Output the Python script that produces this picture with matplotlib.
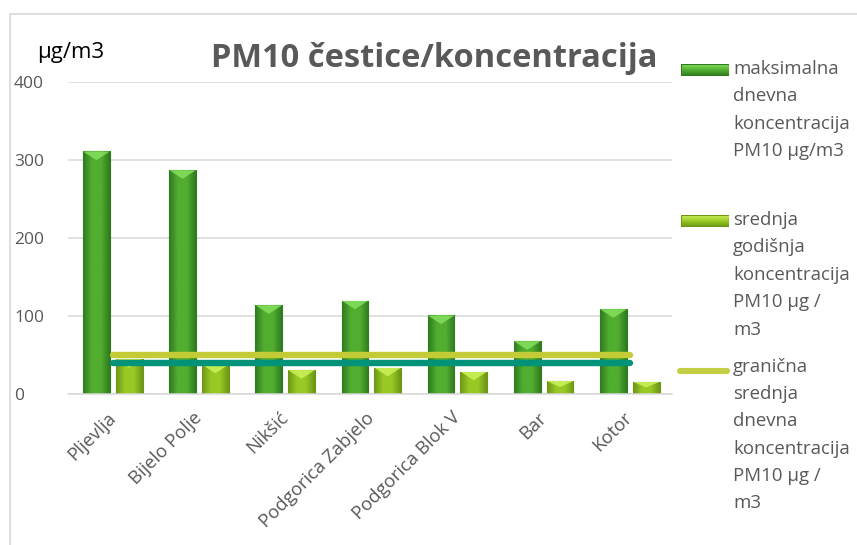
import matplotlib
matplotlib.use('Agg')
import matplotlib.pyplot as plt
import numpy as np
from matplotlib.colors import LinearSegmentedColormap
from matplotlib.patches import Rectangle, Polygon
from matplotlib.lines import Line2D

# ---------------- data ----------------
stations = ['Pljevlja', 'Bijelo Polje', 'Nikšić', 'Podgorica Zabjelo',
            'Podgorica Blok V', 'Bar', 'Kotor']
max_daily = [311, 287, 114, 120, 101, 68, 109]
annual_mean = [45, 38, 31, 34, 29, 17, 16]
daily_limit = 50
annual_limit = 40
yticks = [0, 100, 200, 300, 400]
title = 'PM10 čestice/koncentracija'
unit_label = 'µg/m3'
series_labels = [
    'maksimalna\ndnevna\nkoncentracija\nPM10 µg/m3',
    'srednja\ngodišnja\nkoncentracija\nPM10 µg /\nm3',
    'granična\nsrednja\ndnevna\nkoncentracija\nPM10 µg /\nm3',
]

# ---------------- style ----------------
plt.rcParams['font.family'] = ['Open Sans', 'DejaVu Sans']
W, H = 857, 545
fig = plt.figure(figsize=(W / 100, H / 100), dpi=100)
fig.patch.set_facecolor('white')

def fx(px):
    return px / W

def fy(py):
    return 1 - py / H

ax = fig.add_axes([fx(68), fy(394.3), fx(672 - 68), (394.3 - 82) / H])

GRID = '#D9D9D9'
TXT = '#595959'
DARK_EDGE, DARK_MID = '#2F7A1F', '#52AE30'
LIGHT_EDGE, LIGHT_MID = '#6C9614', '#98C925'
DARK_HL, LIGHT_HL = '#86E05E', '#CDF25A'
LIMIT_C = '#C3CC36'
ANNUAL_C = '#00937A'

x = np.arange(len(stations))
bw = 0.31
off = 0.19


def grad_bar(xc, h, edge, mid, hl):
    cmap = LinearSegmentedColormap.from_list('g', [edge, mid, mid, edge])
    bar = ax.bar(xc, h, bw, color=mid, edgecolor=edge, linewidth=0.8, zorder=2)[0]
    g = np.linspace(0, 1, 64).reshape(1, -1)
    im = ax.imshow(g, cmap=cmap, extent=[xc - bw / 2, xc + bw / 2, 0, h],
                   aspect='auto', zorder=2.1, interpolation='bicubic')
    im.set_clip_path(bar)
    depth = min(11.0, h * 0.45)
    tri = Polygon([[xc - bw / 2, h], [xc + bw / 2, h], [xc, h - depth]],
                  closed=True, facecolor=hl, edgecolor='none', alpha=0.85, zorder=2.2)
    ax.add_patch(tri)
    tri.set_clip_path(bar)


for xi, v in zip(x, max_daily):
    grad_bar(xi - off, v, DARK_EDGE, DARK_MID, DARK_HL)
for xi, v in zip(x, annual_mean):
    grad_bar(xi + off, v, LIGHT_EDGE, LIGHT_MID, LIGHT_HL)

ax.plot(x, [daily_limit] * len(x), color=LIMIT_C, lw=4.6,
        solid_capstyle='round', zorder=3)
ax.plot(x, [annual_limit] * len(x), color=ANNUAL_C, lw=4.6,
        solid_capstyle='round', zorder=3)

ax.set_xlim(-0.52, 6.49)
ax.set_ylim(0, 400)
ax.set_yticks(yticks)
ax.set_yticklabels([str(t) for t in yticks], fontsize=12.5, color=TXT, ha='left')
ax.yaxis.grid(True, color=GRID, lw=1.1)
ax.set_axisbelow(True)
for s in ['left', 'right', 'top']:
    ax.spines[s].set_visible(False)
ax.spines['bottom'].set_color(GRID)
ax.spines['bottom'].set_linewidth(1.1)
ax.tick_params(axis='y', length=0, pad=(68 - 14) * 0.72)
ax.tick_params(axis='x', length=0, pad=15)
ax.set_xticks(x)
ax.set_xticklabels(stations, rotation=45, ha='right', va='center',
                   rotation_mode='anchor', fontsize=13.3, color=TXT)

# title and unit label
fig.text(fx(434), fy(67), title, fontsize=23.5, fontweight='bold',
         color=TXT, ha='center', va='baseline')
fig.text(fx(37), fy(58), unit_label, fontsize=16, color='black',
         ha='left', va='baseline')

# legend (manual layout, handle aligned with first label line)
baselines = [76, 227, 373.5]
for i, (lab, b) in enumerate(zip(series_labels, baselines)):
    fig.text(fx(733), fy(b - 16), lab, fontsize=13.4, color=TXT, ha='left',
             va='top', linespacing=1.67)
    if i < 2:
        edge = DARK_EDGE if i == 0 else LIGHT_EDGE
        mid = DARK_MID if i == 0 else LIGHT_MID
        top = DARK_HL if i == 0 else LIGHT_HL
        cmap = LinearSegmentedColormap.from_list('lg', [top, mid, edge])
        lax = fig.add_axes([fx(681), fy(b), fx(729 - 681), 12 / H])
        lax.set_axis_off()
        lax.imshow(np.linspace(0, 1, 32).reshape(-1, 1), cmap=cmap,
                   aspect='auto', extent=[0, 1, 0, 1], interpolation='bicubic')
        lax.add_patch(Rectangle((0, 0), 1, 1, fill=False, edgecolor=edge, lw=0.8))
        lax.set_xlim(0, 1)
        lax.set_ylim(0, 1)
    else:
        fig.add_artist(Line2D([fx(680), fx(727)], [fy(b - 3), fy(b - 3)],
                              color='#C4CF45', lw=4.4, solid_capstyle='round'))

# chart border
fig.add_artist(Rectangle((fx(10), -0.1), 1.2, fy(14) + 0.1, fill=False,
                         edgecolor='#D9D9D9', lw=1.2, transform=fig.transFigure))

fig.savefig('out.png', dpi=100)
